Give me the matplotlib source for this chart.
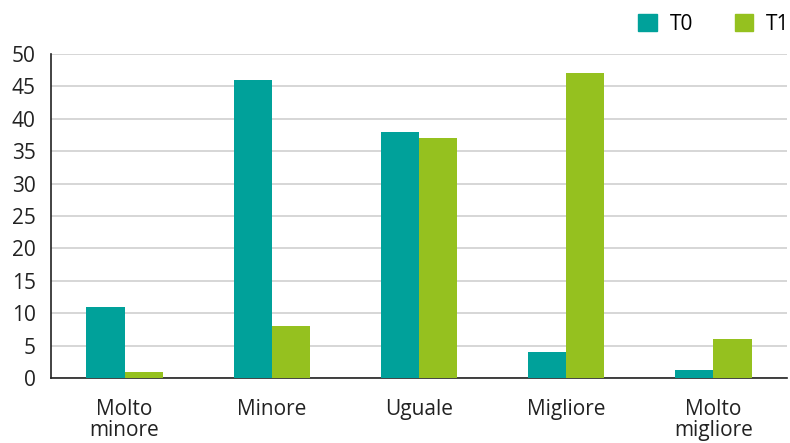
import numpy as np
import matplotlib.pyplot as plt
from matplotlib.patches import Patch

categories = ["Molto\nminore", "Minore", "Uguale", "Migliore", "Molto\nmigliore"]
t0 = [11, 46, 38, 4, 1.2]
t1 = [1, 8, 37, 47, 6]
series_names = ["T0", "T1"]
colors = ["#00A19A", "#95C11F"]

plt.rcParams['font.family'] = ['Open Sans', 'DejaVu Sans']

fig = plt.figure(figsize=(7.9, 4.43), dpi=100)
ax = fig.add_axes([0.0646, 0.1467, 0.9314, 0.7313])

x = np.arange(len(categories))
w = 0.26
ax.bar(x - w / 2, t0, w, color=colors[0], zorder=3)
ax.bar(x + w / 2, t1, w, color=colors[1], zorder=3)

ax.set_xlim(-0.5, len(categories) - 0.5)
ax.set_ylim(0, 50)
ax.set_yticks(range(0, 51, 5))
ax.tick_params(axis='y', length=0, labelsize=15, pad=11, colors='#222222')
ax.tick_params(axis='x', length=0, labelsize=15, pad=15, colors='#222222')
ax.set_xticks(x)
ax.set_xticklabels(categories, linespacing=1.0, va='top')
ax.grid(axis='y', color='#d0d0d0', linewidth=1.2, zorder=0)

for side in ['top', 'right']:
    ax.spines[side].set_visible(False)
ax.spines['left'].set_color('#222222')
ax.spines['bottom'].set_color('#222222')
ax.spines['left'].set_linewidth(1.2)
ax.spines['bottom'].set_linewidth(1.2)

handles = [Patch(color=c, label=n) for c, n in zip(colors, series_names)]
fig.legend(handles=handles, loc='center left', bbox_to_anchor=(0.808, 0.945), ncol=2,
           frameon=False, fontsize=15, handlelength=0.9, handleheight=0.9,
           handletextpad=0.6, columnspacing=2.0, borderaxespad=0, borderpad=0)

fig.savefig("out.png", dpi=100)
